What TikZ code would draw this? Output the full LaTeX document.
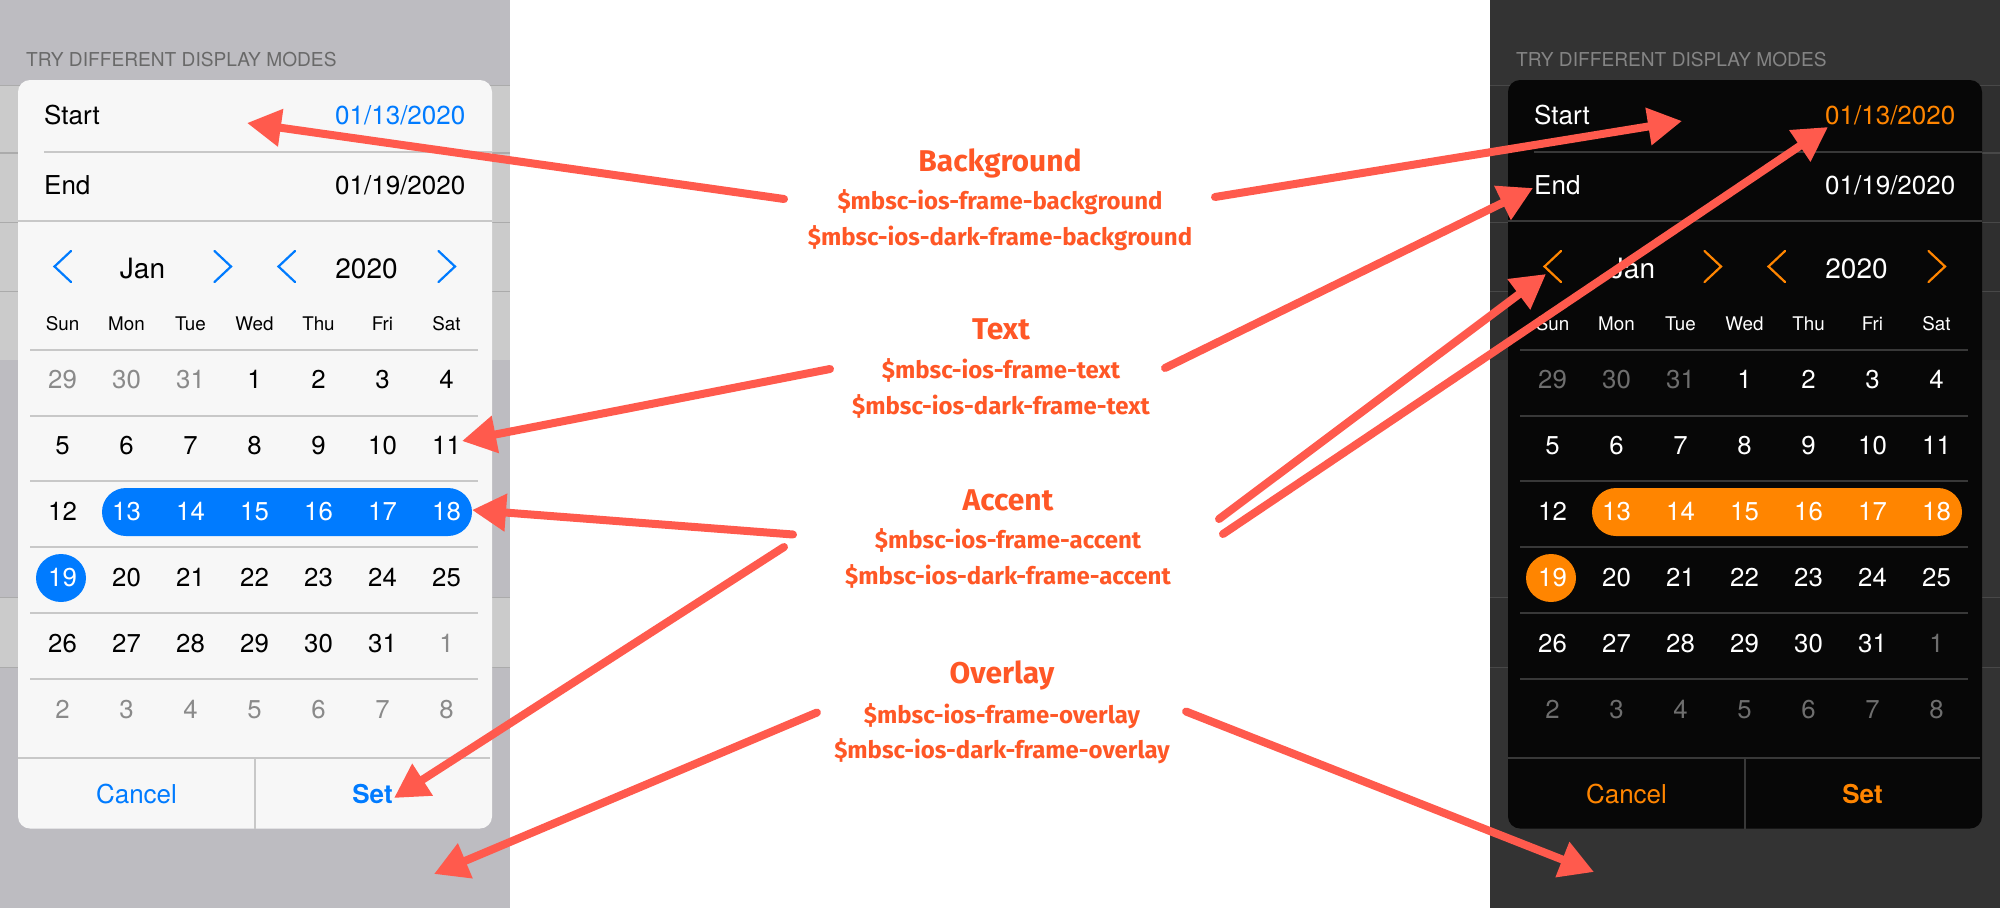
\documentclass[tikz,border=0pt]{standalone}
\usepackage{fontspec}
\setmainfont{TeX Gyre Heros}
\newfontfamily\labelfont{Fira Sans}
\usetikzlibrary{arrows.meta}

\definecolor{labelc}{HTML}{FF5726}
\definecolor{arrowc}{HTML}{FF5A4D}
\definecolor{panell}{HTML}{BDBCC1}
\definecolor{panelr}{HTML}{333333}
\definecolor{bandl}{HTML}{CBCBCB}
\definecolor{bandr}{HTML}{2F2F2F}
\definecolor{rulel}{HTML}{ABABAB}
\definecolor{ruler}{HTML}{484848}
\definecolor{headl}{HTML}{696969}
\definecolor{headr}{HTML}{858585}
\definecolor{cardl}{HTML}{F7F7F7}
\definecolor{cardr}{HTML}{070707}
\definecolor{sepl}{HTML}{C8C8C8}
\definecolor{sepr}{HTML}{383838}
\definecolor{accentl}{HTML}{007BFF}
\definecolor{accentr}{HTML}{FF8500}
\definecolor{plainl}{HTML}{000000}
\definecolor{plainr}{HTML}{FFFFFF}
\definecolor{mutedl}{HTML}{8A8A8A}
\definecolor{mutedr}{HTML}{6E6E6E}
\definecolor{onfilll}{HTML}{FFFFFF}
\definecolor{onfillr}{HTML}{FFFFFF}

\tikzset{
	labelhead/.style={anchor=base, text=labelc, font=\labelfont\bfseries\fontsize{30}{32}\selectfont},
	labelsub/.style={anchor=base, text=labelc, font=\labelfont\bfseries\fontsize{24}{26}\selectfont},
	pointer/.style={draw=arrowc, line width=8pt, line cap=round, -{Triangle[length=34pt,width=36pt]}},
	daynum/.style={anchor=base, font=\fontsize{25.8}{27}\selectfont},
	dayname/.style={anchor=base, font=\fontsize{18.8}{20}\selectfont},
	navtext/.style={anchor=base, font=\fontsize{28}{30}\selectfont},
	rowtext/.style={font=\fontsize{26}{28}\selectfont, inner sep=0pt}
}

\begin{document}
\begin{tikzpicture}[x=1pt, y=-1pt]
	\useasboundingbox (0,0) rectangle (2000,908);
	\fill[white] (0,0) rectangle (2000,908);

	% both screens, the dark one is the same layout moved over
	\foreach \side/\dx in {l/0, r/1490} {
		\begin{scope}[xshift=\dx]
			\fill[panel\side] (0,0) rectangle (510,908);
			\fill[band\side] (0,85.5) rectangle (510,360);
			\fill[band\side] (0,597.5) rectangle (510,667.5);
			\foreach \ruley in {85.5, 153, 222.5, 291.5, 597.5, 667.5}
				\draw[rule\side, line width=1.5pt] (0,\ruley) -- (510,\ruley);
			\node (\side head) [anchor=base west, inner sep=0pt, text=head\side, font=\fontsize{19.15}{21}\selectfont] at (26,66) {TRY DIFFERENT DISPLAY MODES};

			\fill[card\side, rounded corners=12pt] (18,80) rectangle (492,828.5);
			\draw[sep\side, line width=2pt] (44,151.5) -- (492,151.5);
			\draw[sep\side, line width=2pt] (18,221) -- (492,221);
			\draw[sep\side, line width=2pt] (18,757.5) -- (490,757.5);
			\draw[sep\side, line width=2pt] (255,757.5) -- (255,828.5);
			\foreach \ruley in {349.5, 415.5, 481, 547, 613, 679}
				\draw[sep\side, line width=2pt] (30,\ruley) -- (478,\ruley);

			\node (\side start) [rowtext, anchor=base west, text=plain\side] at (44,124.5) {Start};
			\node (\side startval) [rowtext, anchor=base east, text=accent\side] at (465.5,124.5) {01/13/2020};
			\node (\side end) [rowtext, anchor=base west, text=plain\side] at (44,194.5) {End};
			\node (\side endval) [rowtext, anchor=base east, text=plain\side] at (465.5,194.5) {01/19/2020};

			\node (\side month) [navtext, text=plain\side] at (142.5,278) {Jan};
			\node (\side year) [navtext, text=plain\side] at (366.5,278) {2020};
			\foreach \cx in {54.5, 278.5}
				\draw[accent\side, line width=2.2pt, line cap=round] (\cx+16.5,251) -- (\cx,266.5) -- (\cx+16.5,282);
			\foreach \cx in {214.5, 438.5}
				\draw[accent\side, line width=2.2pt, line cap=round] (\cx,251) -- (\cx+16.5,266.5) -- (\cx,282);

			\foreach \dname [count=\c from 0] in {Sun, Mon, Tue, Wed, Thu, Fri, Sat}
				\node (\side name\c) [dayname, text=plain\side] at (62.5+64*\c,330) {\dname};

			\fill[accent\side, rounded corners=24pt] (102,488) rectangle (472,536);
			\fill[accent\side] (61,578) ellipse [x radius=25, y radius=24];

			\foreach \dayno/\dayc [count=\n from 0] in {
				29/muted, 30/muted, 31/muted, 1/plain, 2/plain, 3/plain, 4/plain,
				5/plain, 6/plain, 7/plain, 8/plain, 9/plain, 10/plain, 11/plain,
				12/plain, 13/onfill, 14/onfill, 15/onfill, 16/onfill, 17/onfill, 18/onfill,
				19/onfill, 20/plain, 21/plain, 22/plain, 23/plain, 24/plain, 25/plain,
				26/plain, 27/plain, 28/plain, 29/plain, 30/plain, 31/plain, 1/muted,
				2/muted, 3/muted, 4/muted, 5/muted, 6/muted, 7/muted, 8/muted} {
				\pgfmathtruncatemacro{\c}{mod(\n,7)}
				\pgfmathtruncatemacro{\r}{div(\n,7)}
				\node (\side day\n) [daynum, text=\dayc\side] at (62.5+64*\c,388+66*\r) {\dayno};
			}

			\node (\side cancel) [rowtext, anchor=base, text=accent\side] at (136.5,803) {Cancel};
			\node (\side set) [rowtext, anchor=base, text=accent\side, font=\bfseries\fontsize{26}{28}\selectfont] at (372.5,803) {Set};
		\end{scope}
	}

	% the names in the middle
	\node (bgtitle) [labelhead] at (1000,171) {Background};
	\node (bgsub) [labelsub] at (1000,209) {\$mbsc-ios-frame-background};
	\node (bgdark) [labelsub] at (1000,245) {\$mbsc-ios-dark-frame-background};
	\node (texttitle) [labelhead] at (1001,339) {Text};
	\node (textsub) [labelsub] at (1001,378) {\$mbsc-ios-frame-text};
	\node (textdark) [labelsub] at (1001,414) {\$mbsc-ios-dark-frame-text};
	\node (acctitle) [labelhead] at (1008,510) {Accent};
	\node (accsub) [labelsub] at (1008,548) {\$mbsc-ios-frame-accent};
	\node (accdark) [labelsub] at (1008,584) {\$mbsc-ios-dark-frame-accent};
	\node (overtitle) [labelhead] at (1002,683) {Overlay};
	\node (oversub) [labelsub] at (1002,723) {\$mbsc-ios-frame-overlay};
	\node (overdark) [labelsub] at (1002,758) {\$mbsc-ios-dark-frame-overlay};

	% arrows
	\coordinate (bgtaill) at (784,199);
	\coordinate (bgtipl) at (247,123);
	\coordinate (bgtailr) at (1215,197);
	\coordinate (bgtipr) at (1682,121);
	\coordinate (texttaill) at (830,369);
	\coordinate (texttipl) at (462,441);
	\coordinate (texttailr) at (1165,368);
	\coordinate (texttipr) at (1533,188);
	\coordinate (acctaila) at (793,534.5);
	\coordinate (acctipa) at (472,510);
	\coordinate (acctailb) at (784,547);
	\coordinate (acctipb) at (394,798);
	\coordinate (acctailc) at (1219,519);
	\coordinate (acctipc) at (1546,274);
	\coordinate (acctaild) at (1223,534);
	\coordinate (acctipd) at (1828,127);
	\coordinate (overtaill) at (817,712.5);
	\coordinate (overtipl) at (434,874);
	\coordinate (overtailr) at (1186,711.5);
	\coordinate (overtipr) at (1594,872);
	\draw[pointer] (bgtaill) -- (bgtipl);
	\draw[pointer] (bgtailr) -- (bgtipr);
	\draw[pointer] (texttaill) -- (texttipl);
	\draw[pointer] (texttailr) -- (texttipr);
	\draw[pointer] (acctaila) -- (acctipa);
	\draw[pointer] (acctailb) -- (acctipb);
	\draw[pointer] (acctailc) -- (acctipc);
	\draw[pointer] (acctaild) -- (acctipd);
	\draw[pointer] (overtaill) -- (overtipl);
	\draw[pointer] (overtailr) -- (overtipr);
\end{tikzpicture}
\end{document}
